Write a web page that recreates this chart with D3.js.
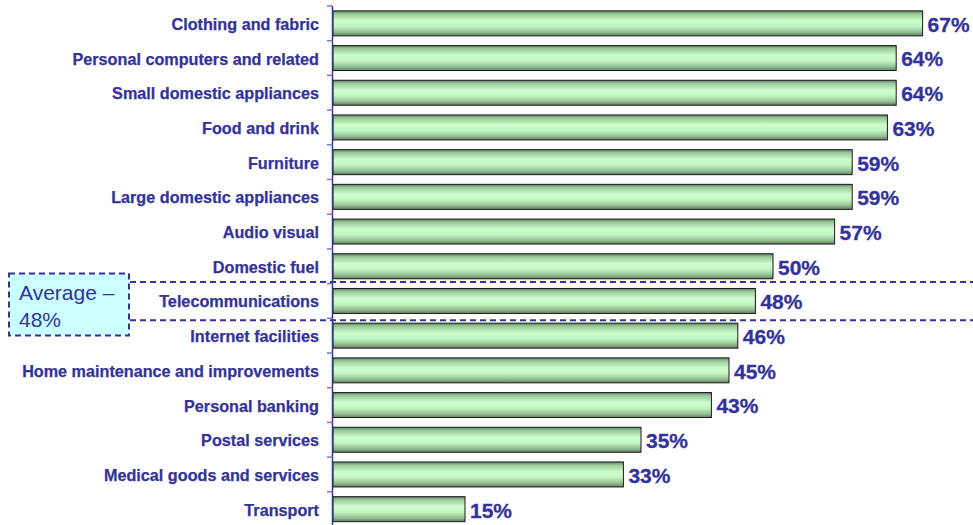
<!DOCTYPE html>
<html><head><meta charset="utf-8">
<script src="https://cdn.jsdelivr.net/npm/d3@7"></script>
<style>body{margin:0;background:#fff;}svg{display:block;}</style>
</head><body>
<script>
const categories = ["Clothing and fabric","Personal computers and related","Small domestic appliances","Food and drink","Furniture","Large domestic appliances","Audio visual","Domestic fuel","Telecommunications","Internet facilities","Home maintenance and improvements","Personal banking","Postal services","Medical goods and services","Transport"];
const values = [67,64,64,63,59,59,57,50,48,46,45,43,35,33,15];
const averageLabel = ["Average \u2013","48%"];
const averageCategory = "Telecommunications";

(function(){
const W = 973, H = 525;
const svg = d3.select("body").append("svg").attr("width", W).attr("height", H);
const defs = svg.append("defs");
const g = defs.append("linearGradient").attr("id","barGrad").attr("x1",0).attr("y1",0).attr("x2",0).attr("y2",1);
[[0,"#5f7f5f"],[0.12,"#98c898"],[0.4,"#ccffcc"],[0.62,"#c4f4c4"],[0.85,"#94bf94"],[1,"#5f7f5f"]].forEach(([o,c])=>g.append("stop").attr("offset",o).attr("stop-color",c));

const x = d3.scaleLinear().domain([0,70]).range([333, 333 + 70*8.8]);
const y = d3.scaleBand().domain(categories).range([6, 526.5]).paddingInner(0.28).paddingOuter(0.14);
const txt = "#333399";

svg.append("g").selectAll("rect").data(categories).join("rect")
  .attr("x", x(0)).attr("y", d=>y(d))
  .attr("width", (d,i)=>x(values[i])-x(0)).attr("height", y.bandwidth())
  .attr("fill","url(#barGrad)").attr("stroke","#1a1a1a").attr("stroke-width",1);

const step = y.step();
const axisG = svg.append("g");
axisG.append("line").attr("x1",332.5).attr("x2",332.5).attr("y1",6).attr("y2",H).attr("stroke","#333399").attr("stroke-width",1.5);
d3.range(categories.length).forEach(i=>{
  const ty = 6 + i*step;
  axisG.append("line").attr("x1",327).attr("x2",332.5).attr("y1",ty).attr("y2",ty).attr("stroke","#7777cc").attr("stroke-width",1.5);
});

svg.append("g").selectAll("text").data(categories).join("text")
  .attr("x", 319).attr("y", d=>y(d)+y.bandwidth()/2).attr("dy","0.4em")
  .attr("text-anchor","end").attr("font-family","Liberation Sans, Arial, sans-serif")
  .attr("font-weight","bold").attr("font-size","16.2px").attr("fill",txt)
  .attr("stroke",txt).attr("stroke-width",0.25).text(d=>d);

svg.append("g").selectAll("text").data(categories).join("text")
  .attr("x", (d,i)=>x(values[i])+5).attr("y", d=>y(d)+y.bandwidth()/2).attr("dy","0.4em")
  .attr("font-family","Liberation Sans, Arial, sans-serif")
  .attr("font-weight","bold").attr("font-size","21px").attr("fill",txt)
  .attr("stroke",txt).attr("stroke-width",0.3).text((d,i)=>values[i]+"%");

const ay = y(averageCategory);
const yTop = ay - (step - y.bandwidth())/2 - 1.5, yBot = ay + y.bandwidth() + (step - y.bandwidth())/2 + 2;
[yTop, yBot].forEach(yy=>{
  svg.append("line").attr("x1",130).attr("x2",W).attr("y1",yy).attr("y2",yy)
    .attr("stroke","#333399").attr("stroke-width",2).attr("stroke-dasharray","6,4");
});
svg.append("rect").attr("x",9).attr("y",273.5).attr("width",120).attr("height",62)
  .attr("fill","#ccffff").attr("stroke","#333399").attr("stroke-width",2).attr("stroke-dasharray","6,4");
svg.append("g").selectAll("text").data(averageLabel).join("text")
  .attr("x",19).attr("y",(d,i)=>300+i*27).attr("font-family","Liberation Sans, Arial, sans-serif")
  .attr("font-size","21px").attr("fill",txt).text(d=>d);
})();
</script>
</body></html>
